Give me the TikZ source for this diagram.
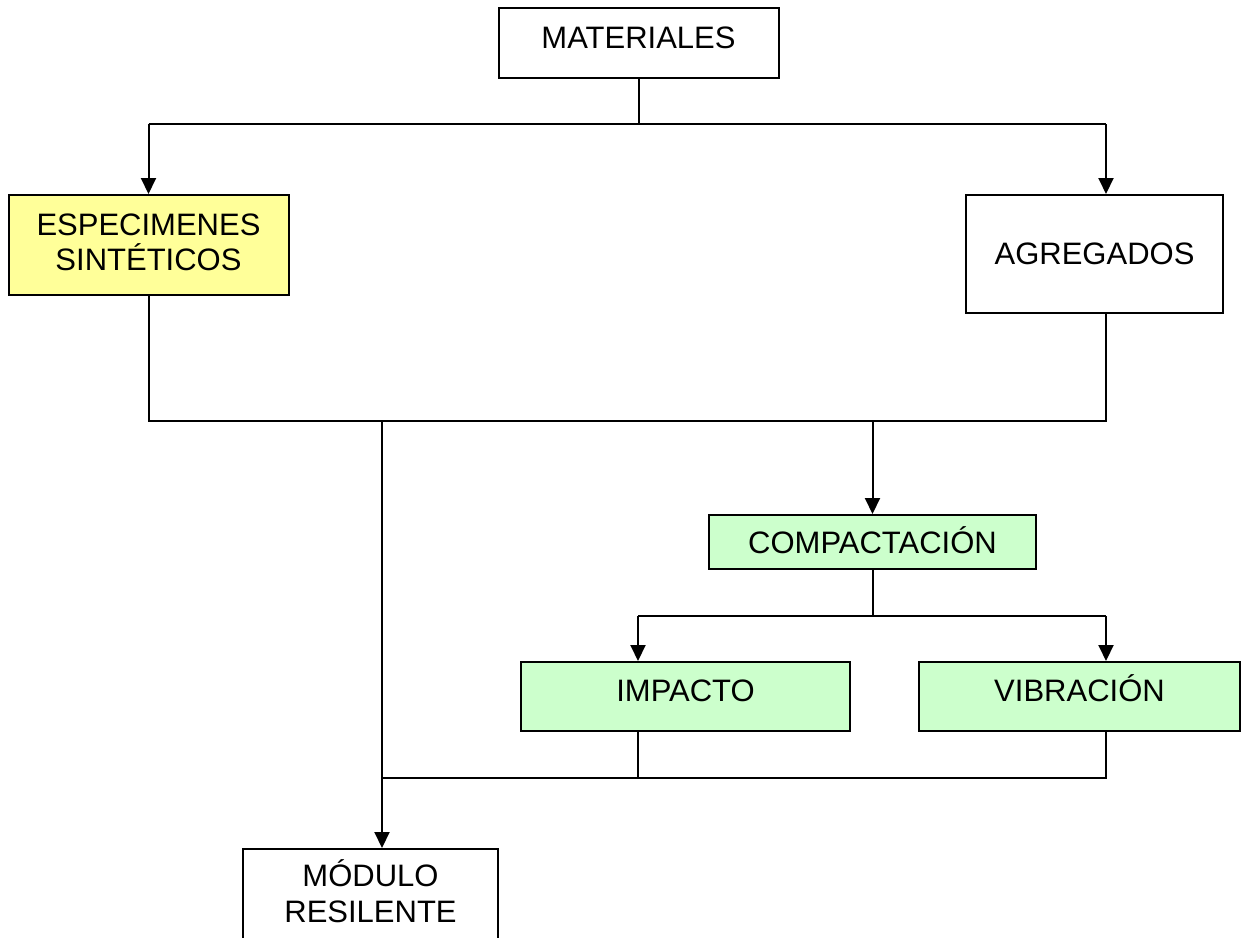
\documentclass[tikz,border=0pt]{standalone}
\usepackage{fontspec}
\setmainfont{Liberation Sans}
\usetikzlibrary{arrows.meta}
\definecolor{boxyellow}{HTML}{FFFF99}
\definecolor{boxgreen}{HTML}{CCFFCC}
\begin{document}
\begin{tikzpicture}[x=1pt,y=-1pt,
  box/.style={draw=black, line width=2pt, rectangle, inner sep=0pt, align=center,
    font=\fontsize{31}{35.5}\selectfont},
  link/.style={draw=black, line width=2pt},
  arr/.style={link, -{Triangle[length=16pt,width=15pt]}}]
\useasboundingbox (0,0) rectangle (1242,937);
\clip (0,0) rectangle (1242,937);
\fill[white] (0,0) rectangle (1242,937);

% boxes
\node[box, minimum width=280, minimum height=70, text height=23pt, text depth=13pt] (mat) at (638.5,43) {MATERIALES};
\node[box, fill=boxyellow, minimum width=280, minimum height=100, text depth=6pt] (esp) at (148.5,245) {ESPECIMENES\\SINTÉTICOS};
\node[box, minimum width=257, minimum height=118] (agr) at (1094.5,254) {AGREGADOS};
\node[box, fill=boxgreen, minimum width=327, minimum height=54, text height=23pt, text depth=1pt] (comp) at (872.5,542) {COMPACTACIÓN};
\node[box, fill=boxgreen, minimum width=329, minimum height=69, text height=23pt, text depth=14pt] (imp) at (685.5,696.5) {IMPACTO};
\node[box, fill=boxgreen, minimum width=321, minimum height=69, text height=23pt, text depth=14pt] (vib) at (1079.5,696.5) {VIBRACIÓN};
\node[box, minimum width=255, minimum height=92, text depth=8pt] (mod) at (370.5,895) {MÓDULO\\RESILENTE};

% junction points
\coordinate (tA) at (148.5,124);
\coordinate (tB) at (1106,124);
\coordinate (mA) at (148.5,421);
\coordinate (mB) at (1106,421);
\coordinate (mC) at (872.5,421);
\coordinate (mD) at (382,421);
\coordinate (cA) at (638,616);
\coordinate (cB) at (1106,616);
\coordinate (bA) at (382,778);
\coordinate (bC) at (638,778);
\coordinate (bB) at (1106,778);

% MATERIALES splits into the two groups
\draw[link] (mat.south) -- (mat.south |- tA);
\draw[link] (tA) -- (tB);
\draw[arr] (tA) -- (esp.north);
\draw[arr] (tB) -- (tB |- agr.north);

% both groups join
\draw[link] (esp.south) -- (mA) -- (mB) -- (mB |- agr.south);
\draw[arr] (mC) -- (comp.north);
\draw[arr] (mD) -- (mD |- mod.north);

% compaction methods
\draw[link] (comp.south) -- (comp.south |- cA);
\draw[link] (cA) -- (cB);
\draw[arr] (cA) -- (cA |- imp.north);
\draw[arr] (cB) -- (cB |- vib.north);

% methods return to the main line
\draw[link] (cA |- imp.south) -- (bC);
\draw[link] (bB |- vib.south) -- (bB) -- (bA);
\end{tikzpicture}
\end{document}
